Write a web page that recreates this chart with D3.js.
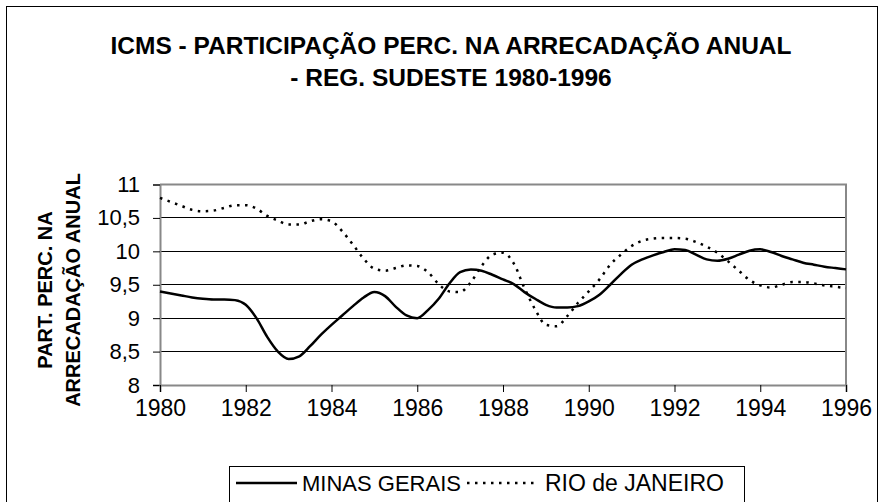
<!DOCTYPE html>
<html>
<head>
<meta charset="utf-8">
<script src="https://cdn.jsdelivr.net/npm/d3@7"></script>
<style>
  html, body { margin: 0; padding: 0; background: #fff; }
  svg { display: block; font-family: Arial, "Liberation Sans", sans-serif; }
</style>
</head>
<body>
<svg id="chart" width="884" height="502"></svg>
<script>
const titleLines = ["ICMS - PARTICIPAÇÃO PERC. NA ARRECADAÇÃO ANUAL", "- REG. SUDESTE 1980-1996"];
const yTitleLines = ["PART. PERC. NA", "ARRECADAÇÃO ANUAL"];
const seriesNames = ["MINAS GERAIS", "RIO de JANEIRO"];
const xTicks = [1980, 1982, 1984, 1986, 1988, 1990, 1992, 1994, 1996];
const yTicks = [8, 8.5, 9, 9.5, 10, 10.5, 11];

const times = [
  1980.0, 1980.25, 1980.5, 1980.75, 1981.0, 1981.25, 1981.5, 1981.75,
  1982.0, 1982.25, 1982.5, 1982.75, 1983.0, 1983.25, 1983.5, 1983.75,
  1984.0, 1984.25, 1984.5, 1984.75, 1985.0, 1985.25, 1985.5, 1985.75,
  1986.0, 1986.25, 1986.5, 1986.75, 1987.0, 1987.25, 1987.5, 1987.75,
  1988.0, 1988.25, 1988.5, 1988.75, 1989.0, 1989.25, 1989.5, 1989.75,
  1990.0, 1990.25, 1990.5, 1990.75, 1991.0, 1991.25, 1991.5, 1991.75,
  1992.0, 1992.25, 1992.5, 1992.75, 1993.0, 1993.25, 1993.5, 1993.75,
  1994.0, 1994.25, 1994.5, 1994.75, 1995.0, 1995.25, 1995.5, 1995.75,
  1996.0
];
const minasGerais = [
  9.40, 9.37, 9.34, 9.31, 9.29, 9.28, 9.28, 9.27,
  9.20, 9.00, 8.72, 8.50, 8.39, 8.43, 8.58, 8.75,
  8.90, 9.04, 9.18, 9.31, 9.39, 9.33, 9.17, 9.04,
  9.00, 9.12, 9.29, 9.52, 9.69, 9.73, 9.71, 9.65,
  9.58, 9.51, 9.39, 9.29, 9.20, 9.16, 9.16, 9.18,
  9.25, 9.35, 9.50, 9.66, 9.80, 9.88, 9.94, 9.99,
  10.03, 10.02, 9.95, 9.88, 9.86, 9.89, 9.95, 10.01,
  10.03, 9.99, 9.93, 9.88, 9.83, 9.80, 9.77, 9.75,
  9.73
];
const rioDeJaneiro = [
  10.80, 10.74, 10.68, 10.62, 10.60, 10.61, 10.65, 10.69,
  10.69, 10.64, 10.53, 10.46, 10.40, 10.40, 10.45, 10.48,
  10.45, 10.30, 10.10, 9.89, 9.74, 9.71, 9.75, 9.79,
  9.78, 9.69, 9.51, 9.40, 9.39, 9.54, 9.78, 9.95,
  9.98, 9.82, 9.45, 9.13, 8.90, 8.88, 9.03, 9.23,
  9.40, 9.58, 9.80, 9.95, 10.08, 10.16, 10.19, 10.20,
  10.20, 10.19, 10.14, 10.07, 9.98, 9.85, 9.71, 9.57,
  9.49, 9.46, 9.50, 9.54, 9.54, 9.52, 9.49, 9.47,
  9.45
];

const svg = d3.select("#chart");
const FONT = "Arial, 'Liberation Sans', sans-serif";

// outer chart border
svg.append("rect").attr("x", 6.5).attr("y", 6.5).attr("width", 871).attr("height", 520)
  .attr("fill", "#fff").attr("stroke", "#000").attr("stroke-width", 1);

const x = d3.scaleLinear().domain([1980, 1996]).range([160, 846]);
const y = d3.scaleLinear().domain([8, 11]).range([385, 184.5]);

// title
svg.append("g").selectAll("text").data(titleLines).join("text")
  .attr("x", 451).attr("y", (d, i) => 54 + i * 32)
  .attr("text-anchor", "middle").attr("font-weight", "bold").attr("font-size", 24.5)
  .text(d => d);

// gridlines
svg.append("g").selectAll("line").data(yTicks.filter(v => v > 8 && v < 11)).join("line")
  .attr("x1", x(1980)).attr("x2", x(1996)).attr("y1", d => y(d)).attr("y2", d => y(d))
  .attr("stroke", "#000").attr("stroke-width", 1).attr("shape-rendering", "crispEdges");

// plot border (top, right) gray
svg.append("path")
  .attr("d", `M${x(1980)},${y(11)}H${x(1996)}V${y(8)}`)
  .attr("fill", "none").attr("stroke", "#888").attr("stroke-width", 2);

// axes
const yAxis = d3.axisLeft(y).tickValues(yTicks).tickSize(7).tickPadding(13)
  .tickFormat(d => String(d).replace(".", ","));
const gy = svg.append("g").attr("transform", `translate(${x(1980)},0)`).call(yAxis);
gy.select(".domain").attr("stroke", "#888").attr("stroke-width", 2);
gy.selectAll(".tick line").attr("stroke", "#000");
gy.selectAll("text").attr("font-size", 22).attr("font-family", FONT).attr("fill", "#000");

const xAxis = d3.axisBottom(x).tickValues(xTicks).tickSize(7).tickPadding(8).tickFormat(d3.format("d"));
const gx = svg.append("g").attr("transform", `translate(0,${y(8)})`).call(xAxis);
gx.select(".domain").attr("stroke", "#888").attr("stroke-width", 2);
gx.selectAll(".tick line").attr("stroke", "#000");
gx.selectAll("text").attr("font-size", 23).attr("font-family", FONT).attr("fill", "#000");

// y-axis title (two centred lines, rotated)
const yt = svg.append("g").attr("transform", "translate(0,290) rotate(-90)");
yt.selectAll("text").data(yTitleLines).join("text")
  .attr("x", 0).attr("y", (d, i) => 52 + i * 28)
  .attr("text-anchor", "middle").attr("font-weight", "bold").attr("font-size", 20)
  .text(d => d);

// lines
const line = d3.line().x((d, i) => x(times[i])).y(d => y(d)).curve(d3.curveMonotoneX);
svg.append("path").datum(minasGerais).attr("d", line)
  .attr("fill", "none").attr("stroke", "#000").attr("stroke-width", 2.5).attr("stroke-linejoin", "round");
svg.append("path").datum(rioDeJaneiro).attr("d", line)
  .attr("fill", "none").attr("stroke", "#000").attr("stroke-width", 2.5)
  .attr("stroke-dasharray", "2.5,5.5");

// legend
const lg = svg.append("g");
lg.append("rect").attr("x", 229.5).attr("y", 466.5).attr("width", 515).attr("height", 60)
  .attr("fill", "#fff").attr("stroke", "#000").attr("stroke-width", 1);
const legendItems = [
  { name: seriesNames[0], x0: 236, x1: 297, tx: 302, dash: null, size: 22 },
  { name: seriesNames[1], x0: 467, x1: 539, tx: 545, dash: "2.5,5.5", size: 23 }
];
legendItems.forEach(it => {
  lg.append("line").attr("x1", it.x0).attr("x2", it.x1).attr("y1", 483).attr("y2", 483)
    .attr("stroke", "#000").attr("stroke-width", 2.5).attr("stroke-dasharray", it.dash);
  lg.append("text").attr("x", it.tx).attr("y", 491).attr("font-size", it.size).text(it.name);
});
</script>
</body>
</html>
